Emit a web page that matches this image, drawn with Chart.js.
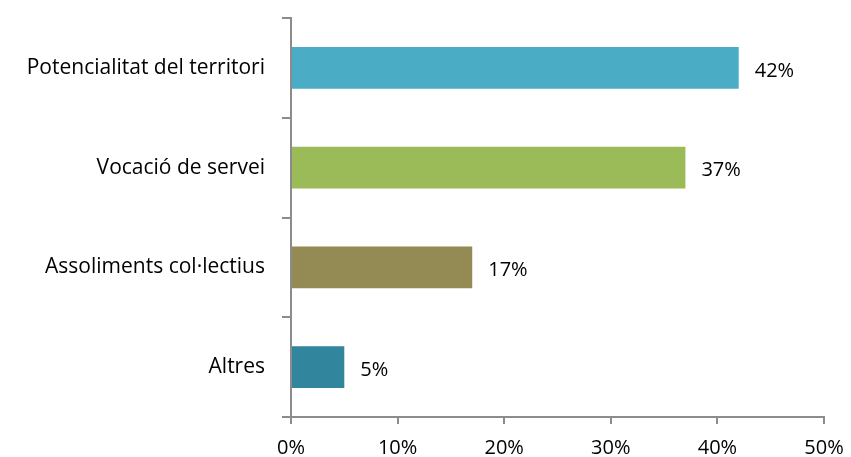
<!DOCTYPE html>
<html>
<head>
<meta charset="utf-8">
<script src="https://cdn.jsdelivr.net/npm/chart.js"></script>
<style>
  html, body { margin: 0; padding: 0; background: #fff; }
  #wrap { width: 851px; height: 457px; }
</style>
</head>
<body>
<div id="wrap"><canvas id="chart" width="851" height="457"></canvas></div>
<script>
// data
const categories = ["Potencialitat del territori", "Vocació de servei", "Assoliments col·lectius", "Altres"];
const values = [42, 37, 17, 5];
const barColors = ["#4BACC6", "#9BBB59", "#948A54", "#31859C"];
const xTicks = [0, 10, 20, 30, 40, 50];

const axisGray = "#8c8c8c";
const fontFamily = "'Open Sans', sans-serif";

// draws the "42%" style labels next to each bar
const valueLabels = {
  id: "valueLabels",
  afterDatasetsDraw(chart) {
    const ctx = chart.ctx;
    const meta = chart.getDatasetMeta(0);
    ctx.save();
    ctx.font = "20px " + fontFamily;
    ctx.fillStyle = "#000";
    ctx.textBaseline = "middle";
    ctx.textAlign = "left";
    meta.data.forEach((bar, i) => {
      ctx.fillText(values[i] + "%", bar.x + 16, bar.y + 3);
    });
    ctx.restore();
  }
};

new Chart("chart", {
  type: "bar",
  data: {
    labels: categories,
    datasets: [{
      data: values,
      backgroundColor: barColors,
      borderWidth: 0,
      categoryPercentage: 1,
      barPercentage: 0.42
    }]
  },
  options: {
    indexAxis: "y",
    responsive: false,
    animation: false,
    layout: { padding: { top: 18, right: 27, left: 0, bottom: 0 } },
    plugins: { legend: { display: false }, tooltip: { enabled: false } },
    scales: {
      x: {
        min: 0,
        max: 50,
        afterBuildTicks: (scale) => { scale.ticks = xTicks.map(v => ({ value: v })); },
        afterFit: (scale) => { scale.height = 40; scale.paddingRight = 0; scale.paddingLeft = 0; },
        border: { display: true, color: axisGray, width: 2 },
        grid: { drawOnChartArea: false, drawTicks: true, tickLength: 7, color: axisGray, lineWidth: 2 },
        ticks: {
          padding: 12,
          color: "#000",
          font: { family: fontFamily, size: 20 },
          callback: (v) => v + "%"
        }
      },
      y: {
        afterFit: (scale) => { scale.width = 291; scale.paddingTop = 0; scale.paddingBottom = 0; },
        border: { display: true, color: axisGray, width: 2 },
        grid: { offset: true, drawOnChartArea: false, drawTicks: true, tickLength: 9, color: axisGray, lineWidth: 2 },
        ticks: {
          padding: 17,
          color: "#000",
          font: { family: fontFamily, size: 21 }
        }
      }
    }
  },
  plugins: [valueLabels]
});
</script>
</body>
</html>
